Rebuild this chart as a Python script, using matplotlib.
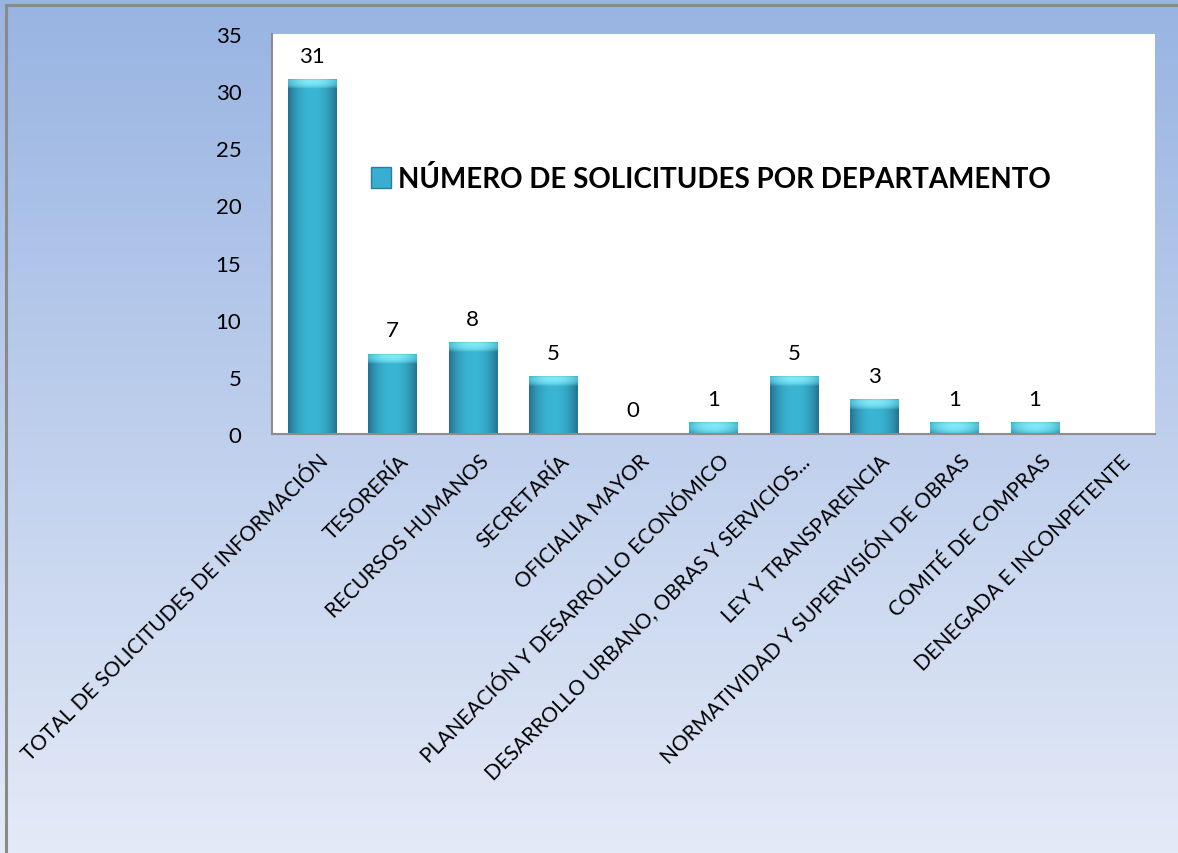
#! /usr/bin/env python3

import numpy as np
import matplotlib
matplotlib.use('Agg')
import matplotlib.pyplot as plt
import matplotlib.transforms as mtransforms
from matplotlib.lines import Line2D
from matplotlib.patches import Rectangle

# data
categories = [
	'TOTAL DE SOLICITUDES DE INFORMACIÓN',
	'TESORERÍA',
	'RECURSOS HUMANOS',
	'SECRETARÍA',
	'OFICIALIA MAYOR',
	'PLANEACIÓN Y DESARROLLO ECONÓMICO',
	'DESARROLLO URBANO, OBRAS Y SERVICIOS...',
	'LEY Y TRANSPARENCIA',
	'NORMATIVIDAD Y SUPERVISIÓN DE OBRAS',
	'COMITÉ DE COMPRAS',
	'DENEGADA E INCONPETENTE',
]
values = [31, 7, 8, 5, 0, 1, 5, 3, 1, 1, np.nan]
series_name = 'NÚMERO DE SOLICITUDES POR DEPARTAMENTO'
yticks = [0, 5, 10, 15, 20, 25, 30, 35]

W, H = 1178, 854
FONT = 'Lato'

def bar_image(h_px, cap_px=9):
	# horizontal shading, light cap on top fading down
	n = 40
	t = np.linspace(-1, 1, n)
	shade = 1 - np.abs(t) ** 2.2
	dark = np.array([36, 115, 145]) / 255
	mid = np.array([58, 182, 212]) / 255
	cdark = np.array([75, 190, 215]) / 255
	cmid = np.array([130, 232, 247]) / 255
	body = dark[None, :] + (mid - dark)[None, :] * shade[:, None]
	cap = cdark[None, :] + (cmid - cdark)[None, :] * shade[:, None]
	rows = max(int(round(h_px)), 3)
	img = np.repeat(body[None, :, :], rows, axis=0)
	k = min(cap_px, rows - 2)
	for i in range(k):
		w = 1 - (i / k) ** 3
		img[i] = cap * w + body * (1 - w)
	img[0] *= 0.92
	img[-2:] *= 0.8
	return img

def main():
	plt.rcParams['font.family'] = [FONT, 'DejaVu Sans']

	fig = plt.figure(figsize=(W / 100, H / 100), dpi=100)

	# background gradient
	bg = fig.add_axes([0, 0, 1, 1], zorder=-5)
	top = np.array([152, 180, 226]) / 255
	bot = np.array([228, 234, 247]) / 255
	g = np.linspace(0, 1, 256)[:, None]
	grad = top[None, :] * (1 - g) + bot[None, :] * g
	bg.imshow(grad[:, None, :], aspect='auto', extent=[0, 1, 0, 1])
	bg.set_axis_off()

	# outer border (left and top)
	fig.add_artist(Line2D([6 / W, 6 / W], [0, 1 - 6 / H], color='#8a8a8a', lw=2.2))
	fig.add_artist(Line2D([6 / W, 1], [1 - 6 / H, 1 - 6 / H], color='#8a8a8a', lw=2.2))

	ax = fig.add_axes([272 / W, 1 - 435 / H, 883 / W, 400 / H])
	ax.set_facecolor('white')

	x = np.arange(len(categories))
	vals = np.array(values, dtype=float)
	bars = ax.bar(x, np.nan_to_num(vals), width=0.6, color='#38b2d2', zorder=2)

	ymax = 35
	px_per_unit = 400 / ymax
	for b, v in zip(bars, vals):
		b.set_visible(False)
		if np.isnan(v) or v <= 0:
			continue
		bx, bw, bh = b.get_x(), b.get_width(), b.get_height()
		img = bar_image(bh * px_per_unit)
		ax.imshow(img, extent=[bx, bx + bw, -0.25, bh], aspect='auto',
			zorder=3, interpolation='bilinear')

	# data labels
	for xi, v in zip(x, vals):
		if np.isnan(v):
			continue
		ax.annotate('%d' % v, (xi, v), xytext=(0, 10), textcoords='offset points',
			ha='center', va='bottom', fontsize=16, color='black', zorder=4)

	ax.set_xlim(-0.5, len(categories) - 0.5)
	ax.set_ylim(0, ymax)
	ax.set_yticks(yticks)
	ax.set_yticklabels([str(t) for t in yticks], fontsize=16)
	ax.tick_params(axis='y', length=0, pad=22)
	ax.set_xticks(x)
	ax.set_xticklabels(categories, rotation=45, ha='right', rotation_mode='anchor',
		fontsize=15)
	ax.tick_params(axis='x', length=0, pad=12)
	shift = mtransforms.ScaledTranslation(6 / 100, 0, fig.dpi_scale_trans)
	for lab in ax.get_xticklabels():
		lab.set_transform(lab.get_transform() + shift)

	for s in ['top', 'right']:
		ax.spines[s].set_visible(False)
	for s in ['left', 'bottom']:
		ax.spines[s].set_color('#8c8c8c')
		ax.spines[s].set_linewidth(1.5)
		ax.spines[s].set_zorder(5)

	# legend
	handle = Rectangle((0, 0), 1, 1, facecolor='#3aaed0', edgecolor='#2a7f9c', lw=1)
	ax.legend([handle], [series_name], loc='center left', bbox_to_anchor=(0.096, 0.638),
		frameon=False, handlelength=0.75, handleheight=0.75, handletextpad=0.25,
		borderpad=0, prop={'family': FONT, 'weight': 'bold', 'size': 20})

	fig.savefig('out.png', dpi=100)

if __name__ == "__main__":
	main()
